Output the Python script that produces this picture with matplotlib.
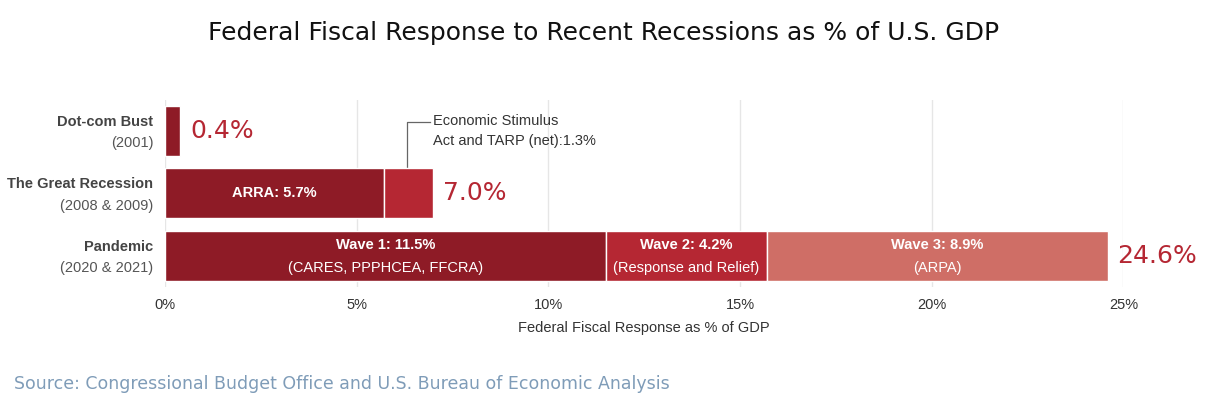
import matplotlib
matplotlib.use("Agg")
import matplotlib.pyplot as plt

CATS = ["Dot-com Bust", "The Great Recession", "Pandemic"]
YEARS = ["(2001)", "(2008 & 2009)", "(2020 & 2021)"]
# segments per row: (value, label)
SEGS = [
    [(0.4, "")],
    [(5.7, "ARRA: 5.7%"), (1.3, "")],
    [(11.5, "Wave 1: 11.5%\n(CARES, PPPHCEA, FFCRA)"),
     (4.2, "Wave 2: 4.2%\n(Response and Relief)"),
     (8.9, "Wave 3: 8.9%\n(ARPA)")],
]
TOTALS = ["0.4%", "7.0%", "24.6%"]
COLORS = ["#8E1B26", "#B52733", "#CF6E66"]
NARROW = ["Liberation Sans Narrow", "Liberation Sans", "DejaVu Sans"]

fig = plt.figure(figsize=(12.07, 4.12), dpi=100)
ax = fig.add_axes([0.1367, 0.303, 0.794, 0.455])
for i, segs in enumerate(SEGS):
    left = 0
    for j, (v, lab) in enumerate(segs):
        ax.barh(i, v, left=left, height=0.8, color=COLORS[j], edgecolor="white", linewidth=1, zorder=3)
        if lab:
            lines = lab.split("\n")
            cx = left + v / 2
            if len(lines) == 1:
                ax.text(cx, i, lines[0], ha="center", va="center", color="white",
                        fontsize=10.5, fontweight="bold", family=NARROW, zorder=4)
            else:
                ax.text(cx, i - 0.17, lines[0], ha="center", va="center", color="white",
                        fontsize=10.5, fontweight="bold", family=NARROW, zorder=4)
                ax.text(cx, i + 0.2, lines[1], ha="center", va="center", color="white",
                        fontsize=10.5, family=NARROW, zorder=4)
        left += v
    ax.text(left + 0.25, i, TOTALS[i], ha="left", va="center", color="#B52733", fontsize=18, zorder=4)

# annotation for Economic Stimulus
ax.plot([6.3, 6.3, 6.9], [0.6, -0.15, -0.15], color="#666666", lw=0.9, clip_on=False)
ax.text(7.0, 0.0, "Economic Stimulus\nAct and TARP (net):1.3%", ha="left", va="center",
        fontsize=10.5, color="#333333", linespacing=1.5, family=NARROW)

ax.set_xlim(0, 25)
ax.set_ylim(2.5, -0.5)
ax.set_xticks([0, 5, 10, 15, 20, 25])
ax.set_xticklabels([f"{t}%" for t in [0, 5, 10, 15, 20, 25]], fontsize=10.5,
                   color="#333333", family=NARROW)
ax.set_yticks([])
for i, (c, y) in enumerate(zip(CATS, YEARS)):
    ax.text(-0.3, i - 0.15, c, ha="right", va="center", fontsize=10.5, fontweight="bold",
            color="#444444", family=NARROW)
    ax.text(-0.3, i + 0.2, y, ha="right", va="center", fontsize=10.5, color="#555555", family=NARROW)
ax.grid(axis="x", color="#e6e6e6", lw=1, zorder=0)
for s in ax.spines.values():
    s.set_visible(False)
ax.tick_params(axis="x", length=0, pad=8)
ax.set_xlabel("Federal Fiscal Response as % of GDP", fontsize=10.5, color="#333333",
              labelpad=6, family=NARROW)

fig.text(0.5, 0.92, "Federal Fiscal Response to Recent Recessions as % of U.S. GDP",
         ha="center", va="center", fontsize=18, color="#111111")
fig.text(0.012, 0.068, "Source: Congressional Budget Office and U.S. Bureau of Economic Analysis",
         ha="left", va="center", fontsize=12.5, color="#7F9CB8")
fig.savefig("out.png", dpi=100)
